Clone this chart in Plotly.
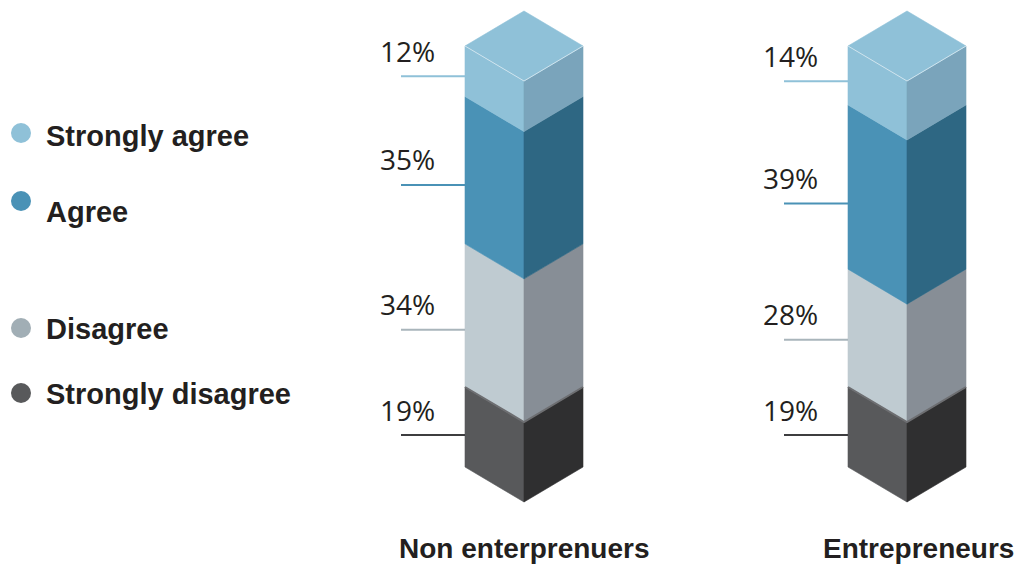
import plotly.graph_objects as go

# Survey responses, stacked bottom to top
groups = ["Non enterprenuers", "Entrepreneurs"]
responses = ["Strongly disagree", "Disagree", "Agree", "Strongly agree"]
strongly_disagree = [19, 19]
disagree = [34, 28]
agree = [35, 39]
strongly_agree = [12, 14]

legend_order = ["Strongly agree", "Agree", "Disagree", "Strongly disagree"]

# front / side / label-line / legend colours per response
front = {"Strongly agree": "#8fc1d8", "Agree": "#4a92b6",
         "Disagree": "#bfcbd1", "Strongly disagree": "#58595b"}
side = {"Strongly agree": "#7aa4bb", "Agree": "#2e6783",
        "Disagree": "#878e96", "Strongly disagree": "#2f2f30"}
leader = {"Strongly agree": "#8fc1d8", "Agree": "#4a92b6",
          "Disagree": "#a9b5bb", "Strongly disagree": "#3d3d3f"}
dot = {"Strongly agree": "#8fc1d8", "Agree": "#4a92b6",
       "Disagree": "#a1aeb5", "Strongly disagree": "#58595b"}

W, H = 1021, 565
# axis geometry (pixels per unit) for the isometric columns
px_per_cat = 383.0
px_per_pct = 4.21
x0_px = 524.0      # pixel x of first column's front edge
base_px = 467.0    # pixel y of 0% on the column's outer edges

half_w = 59.0 / px_per_cat      # half column width in category units
depth = 35.0 / px_per_pct       # isometric drop in percent units
lead_len = 64.0 / px_per_cat
text_gap = 28.0 / px_per_cat
text_rise = 25.5 / px_per_pct

x_range = [-x0_px / px_per_cat, (W - x0_px) / px_per_cat]
y_range = [-(H - base_px) / px_per_pct, base_px / px_per_pct]

values = {
    "Strongly disagree": strongly_disagree,
    "Disagree": disagree,
    "Agree": agree,
    "Strongly agree": strongly_agree,
}

fig = go.Figure()
annotations = []


def poly(xs, ys, color):
    fig.add_trace(go.Scatter(
        x=xs + [xs[0]], y=ys + [ys[0]], mode="lines", fill="toself",
        fillcolor=color, line=dict(color=color, width=0.6),
        hoverinfo="skip", showlegend=False))


def edge(xs, ys, color, width):
    fig.add_trace(go.Scatter(
        x=xs, y=ys, mode="lines", line=dict(color=color, width=width),
        hoverinfo="skip", showlegend=False))


group_label_shift = [0, 11]

for gi, g in enumerate(groups):
    c = gi
    l, r = c - half_w, c + half_w
    bottom = 0
    for resp in responses:
        v = values[resp][gi]
        top = bottom + v
        # left (front-lit) face
        poly([l, l, c, c], [bottom, top, top - depth, bottom - depth], front[resp])
        # right (shaded) face
        poly([c, c, r, r], [bottom - depth, top - depth, top, bottom], side[resp])
        # leader line and value label
        ly = bottom + 0.4 * v
        edge([l - lead_len, l], [ly, ly], leader[resp], 2)
        annotations.append(dict(
            x=c - half_w - text_gap, y=ly + text_rise, xref="x", yref="y",
            text=f"{v}%", showarrow=False, xanchor="right", yanchor="middle",
            font=dict(family="Open Sans", size=28, color="#231f20")))
        bottom = top
    # shadow seam on top of the bottom block
    sd_top = values["Strongly disagree"][gi]
    edge([l, c, r], [sd_top, sd_top - depth, sd_top], "#6d6e71", 2)
    # top face of the column
    poly([l, c, r, c], [bottom, bottom + depth, bottom, bottom - depth],
         front["Strongly agree"])
    edge([l, c, r], [bottom, bottom - depth, bottom], "#cfe4ee", 1)
    # group label
    annotations.append(dict(
        x=c, y=-(548 - base_px) / px_per_pct, xref="x", yref="y",
        text=f"<b>{g}</b>", xshift=group_label_shift[gi],
        showarrow=False, xanchor="center", yanchor="middle",
        font=dict(family="Liberation Sans", size=28, color="#231f20")))

# legend: dots and bold labels
legend_dot_y = [133, 201, 328, 393]
legend_txt_y = [136, 212, 329, 394]
shapes = []
for resp, dy, ty in zip(legend_order, legend_dot_y, legend_txt_y):
    shapes.append(dict(
        type="circle", xref="paper", yref="paper",
        x0=11 / W, x1=31 / W, y0=1 - (dy + 10) / H, y1=1 - (dy - 10) / H,
        fillcolor=dot[resp], line=dict(width=0)))
    annotations.append(dict(
        x=44 / W, y=1 - ty / H, xref="paper", yref="paper",
        text=f"<b>{resp}</b>", showarrow=False, xanchor="left", yanchor="middle",
        font=dict(family="Liberation Sans", size=29, color="#231f20")))

fig.update_layout(
    width=W, height=H,
    margin=dict(l=0, r=0, t=0, b=0),
    paper_bgcolor="white", plot_bgcolor="white",
    xaxis=dict(range=x_range, visible=False, fixedrange=True),
    yaxis=dict(range=y_range, visible=False, fixedrange=True),
    annotations=annotations, shapes=shapes,
    showlegend=False,
)

fig.write_html("out.html")
